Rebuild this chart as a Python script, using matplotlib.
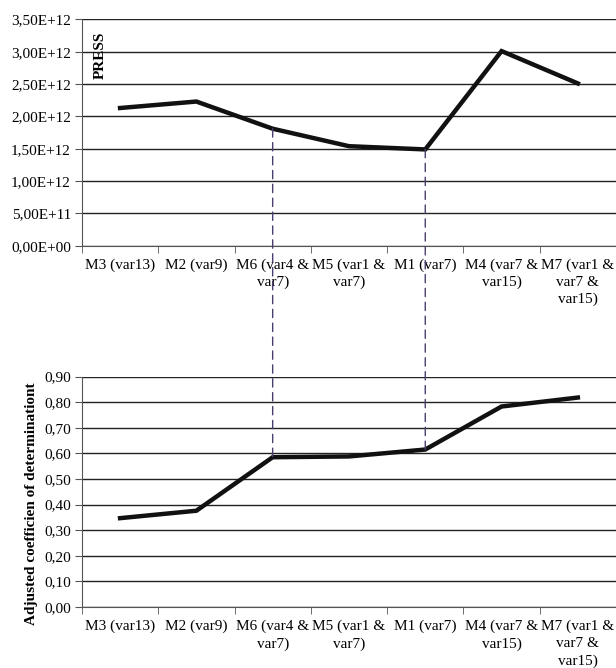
import numpy as np
import matplotlib.pyplot as plt
from matplotlib.patches import ConnectionPatch
from matplotlib.ticker import FuncFormatter

models = ["M3 (var13)", "M2 (var9)", "M6 (var4 &\nvar7)", "M5 (var1 &\nvar7)",
          "M1 (var7)", "M4 (var7 &\nvar15)", "M7 (var1 &\nvar7 &\nvar15)"]
press = [2.13e12, 2.23e12, 1.81e12, 1.54e12, 1.49e12, 3.01e12, 2.51e12]
adj_r2 = [0.347, 0.376, 0.585, 0.588, 0.615, 0.783, 0.818]
linked = [2, 4]  # M6 and M1

plt.rcParams["font.family"] = ["Liberation Serif", "DejaVu Serif"]
plt.rcParams["font.size"] = 11

fig = plt.figure(figsize=(6.16, 6.68), dpi=100)
ax1 = fig.add_axes([0.133, 0.632, 0.867, 0.339])
ax2 = fig.add_axes([0.133, 0.0913, 0.867, 0.345])

x = np.arange(len(models))


def style(ax, ymax, step):
    ax.set_xlim(-0.5, len(models) - 0.5)
    ax.set_ylim(0, ymax)
    ax.set_yticks(np.arange(0, ymax + step / 2, step))
    ax.grid(axis="y", color="#222222", linewidth=1)
    ax.set_axisbelow(True)
    for s in ["top", "right"]:
        ax.spines[s].set_visible(False)
    ax.spines["left"].set_color("#555555")
    ax.spines["bottom"].set_color("#555555")
    ax.set_xticks(x)
    ax.set_xticklabels(models, linespacing=1.4)
    ax.set_xticks(np.arange(-0.5, len(models), 1), minor=True)
    ax.tick_params(axis="x", which="major", length=0, pad=9)
    ax.tick_params(axis="x", which="minor", length=5, color="#555555")
    ax.tick_params(axis="y", length=5, color="#555555", pad=3)


ax1.plot(x, press, color="#111111", linewidth=3.2, solid_joinstyle="miter")
style(ax1, 3.5e12, 0.5e12)
ax1.yaxis.set_major_formatter(FuncFormatter(lambda v, p: f"{v:.2E}".replace(".", ",")))
ax1.text(0.034, 0.84, "PRESS", transform=ax1.transAxes, rotation=90,
         ha="center", va="center", fontweight="bold")

ax2.plot(x, adj_r2, color="#111111", linewidth=3.2, solid_joinstyle="miter")
style(ax2, 0.9, 0.1)
ax2.yaxis.set_major_formatter(FuncFormatter(lambda v, p: f"{v:.2f}".replace(".", ",")))
ax2.set_ylabel("Adjusted coefficien of determinationt", fontweight="bold")
ax2.yaxis.set_label_coords(-0.082, 0.45)

for i in linked:
    con = ConnectionPatch(xyA=(x[i], press[i]), coordsA=ax1.transData,
                          xyB=(x[i], adj_r2[i]), coordsB=ax2.transData,
                          color="#4b3d6e", linewidth=1, linestyle=(0, (6, 4)))
    fig.add_artist(con)

fig.savefig("out.png", dpi=100)
